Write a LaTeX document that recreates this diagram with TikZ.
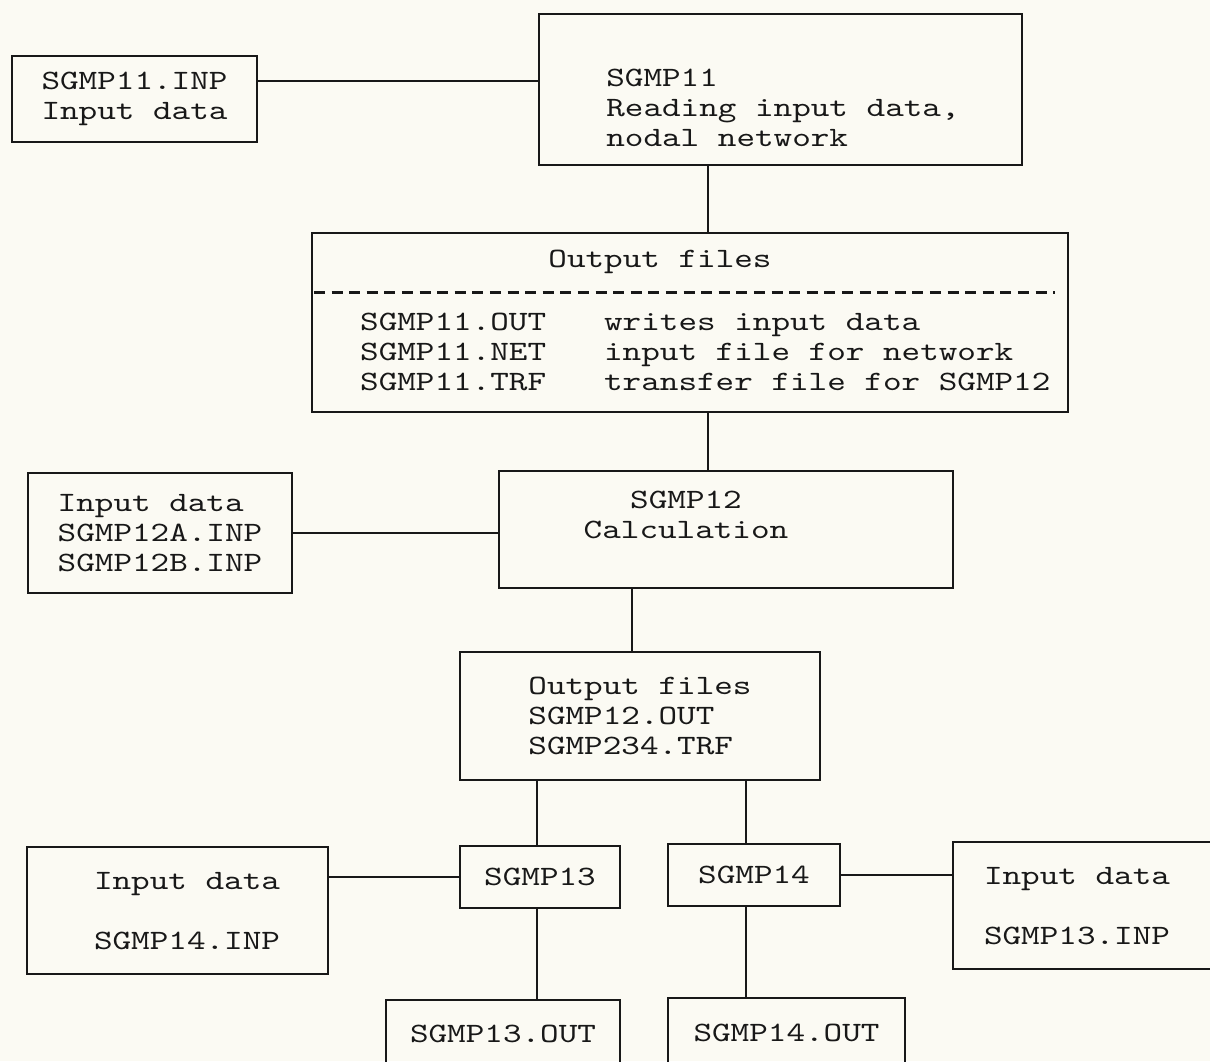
\documentclass[tikz,border=0pt]{standalone}
\usepackage{fontspec}
\newfontfamily\printer{lmmono10-regular.otf}[FakeStretch=1.265]
\definecolor{paper}{RGB}{251,250,243}
\definecolor{ink}{RGB}{24,24,24}
\tikzset{
  box/.style={draw=ink, line width=2.2pt, inner sep=0pt, align=left,
    font={\printer\fontsize{28}{30}\selectfont}, text=ink},
  txt/.style={inner sep=0pt, align=left,
    font={\printer\fontsize{28}{30}\selectfont}, text=ink},
  link/.style={draw=ink, line width=1.8pt},
}

\begin{document}
\begin{tikzpicture}[x=1pt, y=-1pt]

\fill[paper] (0,0) rectangle (1210,1061);
\clip (0,0) rectangle (1210,1061);

% SGMP11 reads the input data
\node[box, minimum width=245pt, minimum height=86pt] (inp11) at (134.5,99) {SGMP11.INP\\Input data};
\node[box, minimum width=483pt, minimum height=151pt] (sgmp11) at (780.5,89.5) {};
\node[txt] (sgmp11text) at (783,108) {SGMP11\\Reading input data,\\nodal network};
\draw[link] ([yshift=18pt]inp11.east) -- ([yshift=18pt]inp11.east -| sgmp11.west);

% output files of SGMP11
\node[box, minimum width=756pt, minimum height=179pt] (out11) at (690,322.5) {};
\node[txt] (out11title) at (660,262) {Output files};
\draw[link, line width=2.6pt, dash pattern=on 11pt off 6.6pt] ([xshift=3pt, yshift=30pt]out11.west) -- ([xshift=-14pt, yshift=30pt]out11.east);
\node[txt, anchor=base west] (out11list) at (360,330) {%
\begin{tabular}[t]{@{}l@{\hspace{58pt}}l@{}}
SGMP11.OUT & writes input data\\
SGMP11.NET & input file for network\\
SGMP11.TRF & transfer file for SGMP12
\end{tabular}};
\draw[link] ([xshift=18pt]out11.north) -- ([xshift=18pt]out11.north |- sgmp11.south);

% SGMP12 calculation
\node[box, minimum width=454pt, minimum height=117pt] (sgmp12) at (726,529.5) {};
\node[txt, align=center] (sgmp12text) at (686,515) {SGMP12\\Calculation};
\node[box, minimum width=264pt, minimum height=120pt] (inp12) at (160,533) {Input data\\SGMP12A.INP\\SGMP12B.INP};
\draw[link] ([xshift=18pt]out11.south) -- ([xshift=18pt]out11.south |- sgmp12.north);
\draw[link] (inp12.east) -- (inp12.east -| sgmp12.west);

\node[box, minimum width=360pt, minimum height=128pt] (out12) at (640,716) {Output files\\SGMP12.OUT\\SGMP234.TRF};
\draw[link] ([xshift=-8pt]out12.north) -- ([xshift=-8pt]out12.north |- sgmp12.south);

% SGMP13 and SGMP14
\node[box, minimum width=160pt, minimum height=62pt] (sgmp13) at (540,877) {SGMP13};
\node[box, minimum width=172pt, minimum height=62pt] (sgmp14) at (754,875) {SGMP14};
\draw[link] ([xshift=-3pt]sgmp13.north) -- ([xshift=-3pt]sgmp13.north |- out12.south);
\draw[link] ([xshift=-8pt]sgmp14.north) -- ([xshift=-8pt]sgmp14.north |- out12.south);

\node[box, minimum width=301pt, minimum height=127pt] (inp14) at (177.5,910.5) {};
\node[txt] (inp14text) at (187,911) {Input data\\[30pt]SGMP14.INP};
\node[box, minimum width=269pt, minimum height=127pt] (inp13) at (1087.5,905.5) {};
\node[txt] (inp13text) at (1077,906) {Input data\\[30pt]SGMP13.INP};
\draw[link] (sgmp13.west) -- (sgmp13.west -| inp14.east);
\draw[link] (sgmp14.east) -- (sgmp14.east -| inp13.west);

\node[box, minimum width=234pt, minimum height=68pt] (out13) at (503,1034) {SGMP13.OUT};
\node[box, minimum width=237pt, minimum height=70pt] (out14) at (786.5,1033) {SGMP14.OUT};
\draw[link] ([xshift=-3pt]sgmp13.south) -- ([xshift=-3pt]sgmp13.south |- out13.north);
\draw[link] ([xshift=-8pt]sgmp14.south) -- ([xshift=-8pt]sgmp14.south |- out14.north);

\end{tikzpicture}
\end{document}
